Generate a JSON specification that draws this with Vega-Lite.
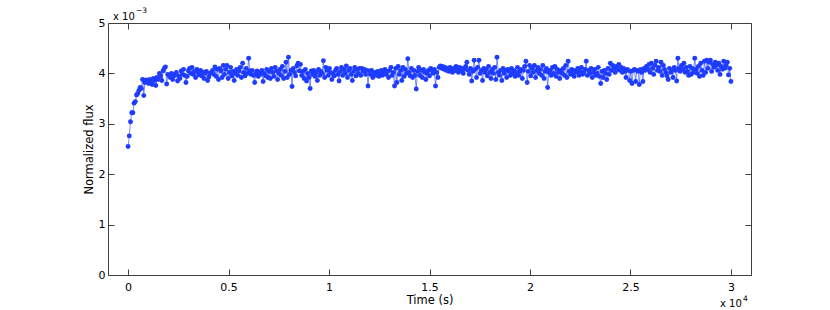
{
"$schema": "https://vega.github.io/schema/vega-lite/v6.json",
"width": 643, "height": 252,
"autosize": {"type": "none"},
"padding": {"left": 108, "top": 23, "right": 79, "bottom": 35},
"background": "white",
"config": {
  "view": {"stroke": "#404040", "strokeWidth": 1},
  "font": "DejaVu Sans",
  "text": {"font": "DejaVu Sans"},
  "axis": {"grid": false, "domain": false, "tickSize": -6, "tickColor": "#404040", "labelFontSize": 11, "labelColor": "#000000", "titleFontSize": 11.5, "titleFontWeight": "normal", "titleColor": "#000000", "labelFont": "DejaVu Sans", "titleFont": "DejaVu Sans"}
},
"datasets": {"flux": [
{"t":0,"f":2.55},{"t":60,"f":2.76},{"t":120,"f":3.04},{"t":180,"f":3.22},{"t":240,"f":3.22},{"t":300,"f":3.41},{"t":360,"f":3.44},{"t":420,"f":3.57},{"t":480,"f":3.60},{"t":540,"f":3.66},
{"t":600,"f":3.72},{"t":660,"f":3.70},{"t":720,"f":3.88},{"t":780,"f":3.56},{"t":840,"f":3.82},{"t":900,"f":3.87},{"t":960,"f":3.85},{"t":1020,"f":3.80},{"t":1080,"f":3.88},{"t":1140,"f":3.84},
{"t":1200,"f":3.78},{"t":1260,"f":3.90},{"t":1320,"f":3.86},{"t":1380,"f":3.76},{"t":1440,"f":3.92},{"t":1500,"f":3.88},{"t":1560,"f":4.00},{"t":1620,"f":3.95},{"t":1680,"f":3.86},{"t":1740,"f":4.05},
{"t":1800,"f":4.10},{"t":1860,"f":4.13},{"t":1920,"f":3.79},{"t":1980,"f":3.98},{"t":2040,"f":3.96},{"t":2100,"f":3.92},{"t":2160,"f":4.00},{"t":2220,"f":3.88},{"t":2280,"f":3.95},{"t":2340,"f":3.98},
{"t":2400,"f":4.02},{"t":2460,"f":3.85},{"t":2520,"f":3.95},{"t":2580,"f":3.90},{"t":2640,"f":4.05},{"t":2700,"f":3.98},{"t":2760,"f":4.08},{"t":2820,"f":3.96},{"t":2880,"f":3.82},{"t":2940,"f":3.94},
{"t":3000,"f":4.05},{"t":3060,"f":4.10},{"t":3120,"f":4.00},{"t":3180,"f":4.12},{"t":3240,"f":3.98},{"t":3300,"f":4.04},{"t":3360,"f":3.92},{"t":3420,"f":4.08},{"t":3480,"f":4.02},{"t":3540,"f":3.97},
{"t":3600,"f":4.06},{"t":3660,"f":3.95},{"t":3720,"f":4.03},{"t":3780,"f":3.90},{"t":3840,"f":4.00},{"t":3900,"f":4.04},{"t":3960,"f":3.86},{"t":4020,"f":3.93},{"t":4080,"f":4.00},{"t":4140,"f":4.02},
{"t":4200,"f":4.06},{"t":4260,"f":3.98},{"t":4320,"f":4.13},{"t":4380,"f":3.94},{"t":4440,"f":4.08},{"t":4500,"f":3.88},{"t":4560,"f":4.10},{"t":4620,"f":4.05},{"t":4680,"f":3.92},{"t":4740,"f":4.16},
{"t":4800,"f":3.98},{"t":4860,"f":4.08},{"t":4920,"f":4.16},{"t":4980,"f":3.90},{"t":5040,"f":4.02},{"t":5100,"f":4.12},{"t":5160,"f":3.95},{"t":5220,"f":4.04},{"t":5280,"f":3.86},{"t":5340,"f":4.00},
{"t":5400,"f":4.08},{"t":5460,"f":3.96},{"t":5520,"f":4.05},{"t":5580,"f":4.12},{"t":5640,"f":3.92},{"t":5700,"f":4.20},{"t":5760,"f":4.02},{"t":5820,"f":3.95},{"t":5880,"f":4.10},{"t":5940,"f":4.00},
{"t":6000,"f":4.30},{"t":6060,"f":4.05},{"t":6120,"f":3.98},{"t":6180,"f":4.06},{"t":6240,"f":3.96},{"t":6300,"f":3.82},{"t":6360,"f":4.00},{"t":6420,"f":4.05},{"t":6480,"f":3.94},{"t":6540,"f":4.02},
{"t":6600,"f":3.98},{"t":6660,"f":4.06},{"t":6720,"f":3.84},{"t":6780,"f":4.00},{"t":6840,"f":3.95},{"t":6900,"f":4.08},{"t":6960,"f":3.92},{"t":7020,"f":4.04},{"t":7080,"f":3.90},{"t":7140,"f":4.10},
{"t":7200,"f":4.02},{"t":7260,"f":3.94},{"t":7320,"f":4.12},{"t":7380,"f":4.05},{"t":7440,"f":3.88},{"t":7500,"f":4.00},{"t":7560,"f":4.08},{"t":7620,"f":3.96},{"t":7680,"f":4.14},{"t":7740,"f":3.90},
{"t":7800,"f":4.04},{"t":7860,"f":4.22},{"t":7920,"f":3.92},{"t":7980,"f":4.32},{"t":8040,"f":3.98},{"t":8100,"f":4.06},{"t":8160,"f":3.74},{"t":8220,"f":4.10},{"t":8280,"f":4.02},{"t":8340,"f":3.95},
{"t":8400,"f":4.15},{"t":8460,"f":4.20},{"t":8520,"f":4.05},{"t":8580,"f":4.18},{"t":8640,"f":3.96},{"t":8700,"f":4.04},{"t":8760,"f":3.90},{"t":8820,"f":4.08},{"t":8880,"f":3.85},{"t":8940,"f":4.00},
{"t":9000,"f":3.92},{"t":9060,"f":3.70},{"t":9120,"f":4.05},{"t":9180,"f":3.98},{"t":9240,"f":4.06},{"t":9300,"f":3.94},{"t":9360,"f":4.02},{"t":9420,"f":3.86},{"t":9480,"f":4.08},{"t":9540,"f":3.96},
{"t":9600,"f":4.04},{"t":9660,"f":4.00},{"t":9720,"f":4.25},{"t":9780,"f":3.92},{"t":9840,"f":4.12},{"t":9900,"f":4.06},{"t":9960,"f":3.96},{"t":10020,"f":4.10},{"t":10080,"f":4.02},{"t":10140,"f":3.88},
{"t":10200,"f":4.00},{"t":10260,"f":3.95},{"t":10320,"f":4.06},{"t":10380,"f":4.10},{"t":10440,"f":3.98},{"t":10500,"f":3.85},{"t":10560,"f":4.04},{"t":10620,"f":4.12},{"t":10680,"f":3.96},{"t":10740,"f":4.08},
{"t":10800,"f":4.00},{"t":10860,"f":4.15},{"t":10920,"f":3.92},{"t":10980,"f":4.06},{"t":11040,"f":4.10},{"t":11100,"f":3.98},{"t":11160,"f":3.86},{"t":11220,"f":4.04},{"t":11280,"f":4.12},{"t":11340,"f":3.95},
{"t":11400,"f":4.08},{"t":11460,"f":4.00},{"t":11520,"f":4.10},{"t":11580,"f":3.96},{"t":11640,"f":4.10},{"t":11700,"f":4.04},{"t":11760,"f":4.08},{"t":11820,"f":3.98},{"t":11880,"f":4.06},{"t":11940,"f":3.75},
{"t":12000,"f":4.05},{"t":12060,"f":3.98},{"t":12120,"f":4.06},{"t":12180,"f":3.92},{"t":12240,"f":4.00},{"t":12300,"f":4.02},{"t":12360,"f":3.96},{"t":12420,"f":4.04},{"t":12480,"f":3.94},{"t":12540,"f":4.00},
{"t":12600,"f":4.06},{"t":12660,"f":3.96},{"t":12720,"f":4.02},{"t":12780,"f":4.08},{"t":12840,"f":3.98},{"t":12900,"f":4.04},{"t":12960,"f":3.92},{"t":13020,"f":4.06},{"t":13080,"f":4.12},{"t":13140,"f":3.96},
{"t":13200,"f":4.02},{"t":13260,"f":3.75},{"t":13320,"f":4.10},{"t":13380,"f":3.82},{"t":13440,"f":4.14},{"t":13500,"f":3.98},{"t":13560,"f":4.06},{"t":13620,"f":3.86},{"t":13680,"f":4.12},{"t":13740,"f":3.94},
{"t":13800,"f":4.08},{"t":13860,"f":4.00},{"t":13920,"f":4.29},{"t":13980,"f":4.02},{"t":14040,"f":3.95},{"t":14100,"f":4.10},{"t":14160,"f":3.92},{"t":14220,"f":4.06},{"t":14280,"f":3.96},{"t":14340,"f":3.69},
{"t":14400,"f":4.04},{"t":14460,"f":4.12},{"t":14520,"f":3.96},{"t":14580,"f":4.06},{"t":14640,"f":3.92},{"t":14700,"f":4.08},{"t":14760,"f":4.02},{"t":14820,"f":3.88},{"t":14880,"f":4.00},{"t":14940,"f":4.06},
{"t":15000,"f":3.95},{"t":15060,"f":4.10},{"t":15120,"f":4.06},{"t":15180,"f":4.00},{"t":15240,"f":4.08},{"t":15300,"f":3.75},{"t":15360,"f":4.02},{"t":15420,"f":3.92},{"t":15480,"f":4.12},{"t":15540,"f":4.15},
{"t":15600,"f":4.10},{"t":15660,"f":4.14},{"t":15720,"f":4.08},{"t":15780,"f":4.12},{"t":15840,"f":4.06},{"t":15900,"f":4.10},{"t":15960,"f":4.04},{"t":16020,"f":4.12},{"t":16080,"f":4.08},{"t":16140,"f":4.02},
{"t":16200,"f":4.10},{"t":16260,"f":4.05},{"t":16320,"f":4.14},{"t":16380,"f":4.08},{"t":16440,"f":4.02},{"t":16500,"f":4.12},{"t":16560,"f":4.06},{"t":16620,"f":4.10},{"t":16680,"f":4.00},{"t":16740,"f":4.08},
{"t":16800,"f":4.14},{"t":16860,"f":4.22},{"t":16920,"f":4.06},{"t":16980,"f":3.98},{"t":17040,"f":4.10},{"t":17100,"f":3.85},{"t":17160,"f":4.04},{"t":17220,"f":4.26},{"t":17280,"f":4.08},{"t":17340,"f":3.92},
{"t":17400,"f":4.12},{"t":17460,"f":4.26},{"t":17520,"f":4.00},{"t":17580,"f":4.06},{"t":17640,"f":3.86},{"t":17700,"f":4.10},{"t":17760,"f":4.02},{"t":17820,"f":4.08},{"t":17880,"f":3.95},{"t":17940,"f":4.14},
{"t":18000,"f":4.02},{"t":18060,"f":3.90},{"t":18120,"f":4.08},{"t":18180,"f":4.00},{"t":18240,"f":4.12},{"t":18300,"f":3.88},{"t":18360,"f":4.32},{"t":18420,"f":4.02},{"t":18480,"f":3.96},{"t":18540,"f":4.06},
{"t":18600,"f":3.86},{"t":18660,"f":4.10},{"t":18720,"f":4.00},{"t":18780,"f":4.06},{"t":18840,"f":3.92},{"t":18900,"f":4.08},{"t":18960,"f":4.04},{"t":19020,"f":3.96},{"t":19080,"f":4.10},{"t":19140,"f":4.00},
{"t":19200,"f":4.06},{"t":19260,"f":3.94},{"t":19320,"f":4.02},{"t":19380,"f":4.12},{"t":19440,"f":3.96},{"t":19500,"f":4.04},{"t":19560,"f":4.08},{"t":19620,"f":3.90},{"t":19680,"f":4.06},{"t":19740,"f":4.14},
{"t":19800,"f":4.24},{"t":19860,"f":3.82},{"t":19920,"f":4.04},{"t":19980,"f":4.16},{"t":20040,"f":3.95},{"t":20100,"f":4.10},{"t":20160,"f":4.02},{"t":20220,"f":4.16},{"t":20280,"f":3.92},{"t":20340,"f":4.06},
{"t":20400,"f":4.12},{"t":20460,"f":4.00},{"t":20520,"f":4.08},{"t":20580,"f":3.96},{"t":20640,"f":4.16},{"t":20700,"f":3.90},{"t":20760,"f":4.04},{"t":20820,"f":4.10},{"t":20880,"f":3.72},{"t":20940,"f":4.02},
{"t":21000,"f":4.06},{"t":21060,"f":3.96},{"t":21120,"f":4.12},{"t":21180,"f":4.00},{"t":21240,"f":4.14},{"t":21300,"f":3.94},{"t":21360,"f":4.08},{"t":21420,"f":4.02},{"t":21480,"f":3.90},{"t":21540,"f":4.06},
{"t":21600,"f":4.00},{"t":21660,"f":4.10},{"t":21720,"f":3.96},{"t":21780,"f":4.16},{"t":21840,"f":3.92},{"t":21900,"f":4.24},{"t":21960,"f":4.04},{"t":22020,"f":3.98},{"t":22080,"f":4.08},{"t":22140,"f":4.00},
{"t":22200,"f":3.94},{"t":22260,"f":4.06},{"t":22320,"f":4.02},{"t":22380,"f":4.10},{"t":22440,"f":3.96},{"t":22500,"f":4.04},{"t":22560,"f":4.12},{"t":22620,"f":3.98},{"t":22680,"f":4.02},{"t":22740,"f":4.08},
{"t":22800,"f":4.24},{"t":22860,"f":3.96},{"t":22920,"f":4.06},{"t":22980,"f":4.00},{"t":23040,"f":4.10},{"t":23100,"f":3.92},{"t":23160,"f":4.02},{"t":23220,"f":4.08},{"t":23280,"f":3.96},{"t":23340,"f":4.00},
{"t":23400,"f":4.12},{"t":23460,"f":3.94},{"t":23520,"f":3.80},{"t":23580,"f":4.04},{"t":23640,"f":3.92},{"t":23700,"f":4.06},{"t":23760,"f":4.00},{"t":23820,"f":3.88},{"t":23880,"f":4.10},{"t":23940,"f":3.98},
{"t":24000,"f":4.20},{"t":24060,"f":4.06},{"t":24120,"f":4.16},{"t":24180,"f":4.10},{"t":24240,"f":4.02},{"t":24300,"f":4.14},{"t":24360,"f":4.08},{"t":24420,"f":4.18},{"t":24480,"f":4.06},{"t":24540,"f":4.12},
{"t":24600,"f":4.02},{"t":24660,"f":4.10},{"t":24720,"f":4.04},{"t":24780,"f":3.92},{"t":24840,"f":4.08},{"t":24900,"f":4.06},{"t":24960,"f":3.86},{"t":25020,"f":4.04},{"t":25080,"f":3.80},{"t":25140,"f":4.06},
{"t":25200,"f":4.08},{"t":25260,"f":3.84},{"t":25320,"f":4.06},{"t":25380,"f":4.04},{"t":25440,"f":3.78},{"t":25500,"f":4.08},{"t":25560,"f":4.02},{"t":25620,"f":3.84},{"t":25680,"f":4.10},{"t":25740,"f":4.06},
{"t":25800,"f":4.14},{"t":25860,"f":4.08},{"t":25920,"f":4.18},{"t":25980,"f":4.02},{"t":26040,"f":4.20},{"t":26100,"f":4.10},{"t":26160,"f":3.98},{"t":26220,"f":4.16},{"t":26280,"f":4.24},{"t":26340,"f":4.06},
{"t":26400,"f":4.12},{"t":26460,"f":4.04},{"t":26520,"f":4.22},{"t":26580,"f":3.96},{"t":26640,"f":4.16},{"t":26700,"f":4.08},{"t":26760,"f":4.02},{"t":26820,"f":3.95},{"t":26880,"f":3.88},{"t":26940,"f":4.10},
{"t":27000,"f":4.02},{"t":27060,"f":4.06},{"t":27120,"f":3.92},{"t":27180,"f":4.12},{"t":27240,"f":4.06},{"t":27300,"f":3.85},{"t":27360,"f":4.30},{"t":27420,"f":4.10},{"t":27480,"f":4.04},{"t":27540,"f":4.16},
{"t":27600,"f":4.08},{"t":27660,"f":4.20},{"t":27720,"f":4.02},{"t":27780,"f":4.12},{"t":27840,"f":4.04},{"t":27900,"f":3.96},{"t":27960,"f":4.14},{"t":28020,"f":3.98},{"t":28080,"f":4.10},{"t":28140,"f":4.02},
{"t":28200,"f":4.30},{"t":28260,"f":4.08},{"t":28320,"f":4.00},{"t":28380,"f":4.14},{"t":28440,"f":3.94},{"t":28500,"f":4.20},{"t":28560,"f":4.06},{"t":28620,"f":3.96},{"t":28680,"f":4.24},{"t":28740,"f":4.02},
{"t":28800,"f":4.26},{"t":28860,"f":4.10},{"t":28920,"f":4.22},{"t":28980,"f":4.26},{"t":29040,"f":4.04},{"t":29100,"f":4.18},{"t":29160,"f":4.12},{"t":29220,"f":4.22},{"t":29280,"f":4.16},{"t":29340,"f":4.06},
{"t":29400,"f":4.20},{"t":29460,"f":3.98},{"t":29520,"f":4.14},{"t":29580,"f":4.08},{"t":29640,"f":4.24},{"t":29700,"f":4.10},{"t":29760,"f":4.16},{"t":29820,"f":4.22},{"t":29880,"f":3.97},{"t":29940,"f":4.10},
{"t":30000,"f":3.84}
]},
"layer": [
  {
    "data": {"name": "flux"},
    "mark": {"type": "line", "color": "#1e3cff", "strokeWidth": 0.6},
    "encoding": {
      "x": {"field": "t", "type": "quantitative", "scale": {"domain": [-1000, 31000], "nice": false, "zero": false},
            "axis": {"orient": "bottom", "values": [0, 5000, 10000, 15000, 20000, 25000, 30000], "labelExpr": "format(datum.value / 10000, '~g')", "labelPadding": 12, "title": "Time (s)", "titlePadding": 2}},
      "y": {"field": "f", "type": "quantitative", "scale": {"domain": [0, 5], "nice": false, "zero": false},
            "axis": {"orient": "left", "values": [0, 1, 2, 3, 4, 5], "format": "~g", "labelPadding": 9, "title": "Normalized flux", "titlePadding": 4}}
    }
  },
  {
    "data": {"name": "flux"},
    "mark": {"type": "point", "filled": true, "color": "#1e3cff", "size": 24, "opacity": 1},
    "encoding": {
      "x": {"field": "t", "type": "quantitative", "axis": {"orient": "top", "values": [0, 5000, 10000, 15000, 20000, 25000, 30000], "labels": false, "title": null}},
      "y": {"field": "f", "type": "quantitative", "axis": {"orient": "right", "values": [0, 1, 2, 3, 4, 5], "labels": false, "title": null}}
    }
  },
  {
    "data": {"values": [{"label": "x 10"}]},
    "mark": {"type": "text", "align": "left", "baseline": "alphabetic", "dx": 5, "dy": -3, "fontSize": 10, "fill": "#000000"},
    "encoding": {"x": {"datum": -1000, "type": "quantitative", "axis": null}, "y": {"datum": 5, "type": "quantitative", "axis": null}, "text": {"field": "label"}}
  },
  {
    "data": {"values": [{"label": "−3"}]},
    "mark": {"type": "text", "align": "left", "baseline": "alphabetic", "dx": 28, "dy": -10, "fontSize": 7.5, "fill": "#000000"},
    "encoding": {"x": {"datum": -1000, "type": "quantitative", "axis": null}, "y": {"datum": 5, "type": "quantitative", "axis": null}, "text": {"field": "label"}}
  },
  {
    "data": {"values": [{"label": "x 10"}]},
    "mark": {"type": "text", "align": "left", "baseline": "alphabetic", "dx": -31, "dy": 32, "fontSize": 10, "fill": "#000000"},
    "encoding": {"x": {"datum": 31000, "type": "quantitative", "axis": null}, "y": {"datum": 0, "type": "quantitative", "axis": null}, "text": {"field": "label"}}
  },
  {
    "data": {"values": [{"label": "4"}]},
    "mark": {"type": "text", "align": "left", "baseline": "alphabetic", "dx": -8, "dy": 26, "fontSize": 7.5, "fill": "#000000"},
    "encoding": {"x": {"datum": 31000, "type": "quantitative", "axis": null}, "y": {"datum": 0, "type": "quantitative", "axis": null}, "text": {"field": "label"}}
  }
],
"resolve": {"axis": {"x": "independent", "y": "independent"}}
}
